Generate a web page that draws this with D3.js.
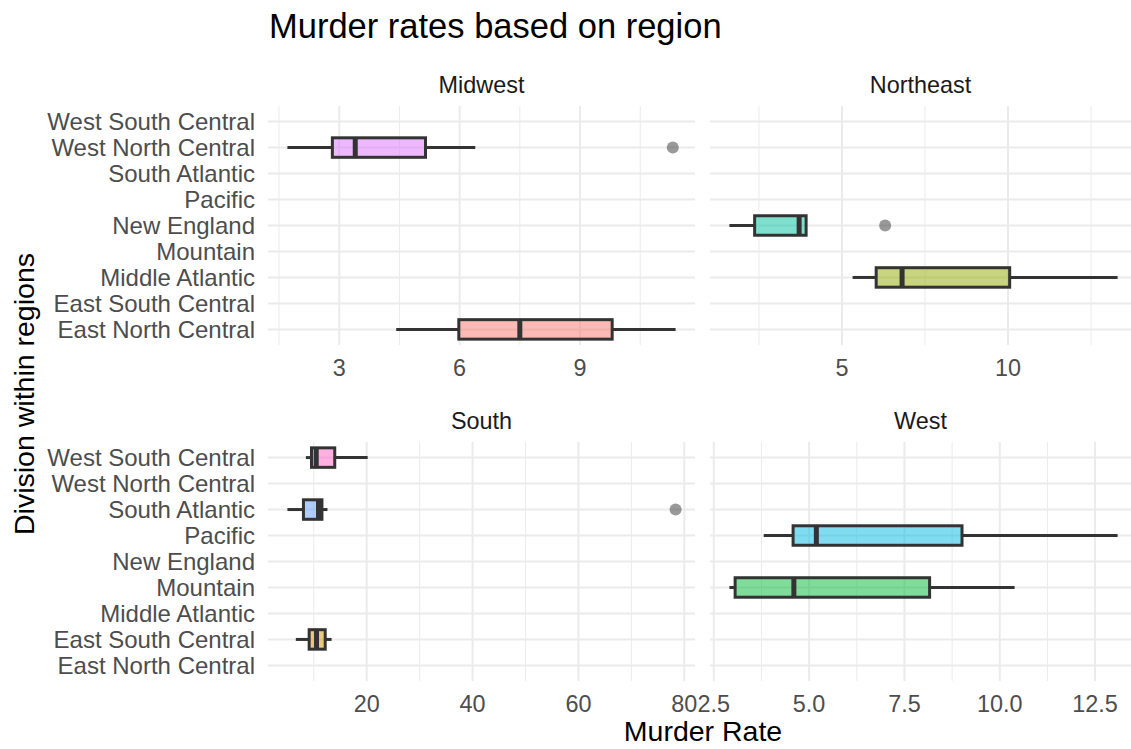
<!DOCTYPE html>
<html>
<head>
<meta charset="utf-8">
<script src="https://cdn.jsdelivr.net/npm/d3@7"></script>
<style>
	body { margin: 0; background: #fff; }
	text { font-family: "Liberation Sans", Arial, sans-serif; }
</style>
</head>
<body>
<div id="chart"></div>
<script>
// divisions in axis order (bottom to top) and their hue colours
var divisions = ['East North Central', 'East South Central', 'Middle Atlantic', 'Mountain',
	'New England', 'Pacific', 'South Atlantic', 'West North Central', 'West South Central'];
var divColors = ['#F8766D', '#D39200', '#93AA00', '#00BA38', '#00C19F', '#00B9E3', '#619CFF', '#DB72FB', '#FF61C3'];

// box stats, one array per region
var midwestBoxes = [
	{division: 'East North Central', lo: 4.42, q1: 5.98, med: 7.5, q3: 9.8, hi: 11.38, out: []},
	{division: 'West North Central', lo: 1.71, q1: 2.83, med: 3.4, q3: 5.15, hi: 6.39, out: [11.31]}
];
var northeastBoxes = [
	{division: 'Middle Atlantic', lo: 5.32, q1: 6.03, med: 6.81, q3: 10.05, hi: 13.3, out: []},
	{division: 'New England', lo: 1.61, q1: 2.37, med: 3.71, q3: 3.92, hi: 3.92, out: [6.3]}
];
var southBoxes = [
	{division: 'East South Central', lo: 6.62, q1: 9.14, med: 10.53, q3: 12.17, hi: 13.37, out: []},
	{division: 'South Atlantic', lo: 5.03, q1: 8.06, med: 10.9, q3: 11.55, hi: 12.6, out: [78.35]},
	{division: 'West South Central', lo: 8.52, q1: 9.58, med: 10.47, q3: 13.97, hi: 20.19, out: []}
];
var westBoxes = [
	{division: 'Mountain', lo: 2.91, q1: 3.06, med: 4.6, q3: 8.16, hi: 10.39, out: []},
	{division: 'Pacific', lo: 3.81, q1: 4.58, med: 5.19, q3: 9.01, hi: 13.09, out: []}
];

// tick values per panel
var midwestTicks = [3, 6, 9], midwestMinor = [1.5, 4.5, 7.5, 10.5];
var northeastTicks = [5, 10], northeastMinor = [2.5, 7.5, 12.5];
var southTicks = [20, 40, 60, 80], southMinor = [10, 30, 50, 70];
var westTicks = [2.5, 5, 7.5, 10, 12.5], westMinor = [3.75, 6.25, 8.75, 11.25];

var params = {
	width: 1131,
	height: 749,
	cols: [[268, 695], [710, 1137]],
	rows: [[106, 345], [442, 681]],
	boxColor: '#333333',
	gridColor: '#EBEBEB'
};

var facets = [
	{name: 'Midwest', boxes: midwestBoxes, ticks: midwestTicks, minor: midwestMinor, fmt: d3.format('d'), col: 0, row: 0},
	{name: 'Northeast', boxes: northeastBoxes, ticks: northeastTicks, minor: northeastMinor, fmt: d3.format('d'), col: 1, row: 0},
	{name: 'South', boxes: southBoxes, ticks: southTicks, minor: southMinor, fmt: d3.format('d'), col: 0, row: 1},
	{name: 'West', boxes: westBoxes, ticks: westTicks, minor: westMinor, fmt: d3.format('.1f'), col: 1, row: 1}
];

var color = d3.scaleOrdinal().domain(divisions).range(divColors);

var svg = d3.select('#chart').append('svg')
	.attr('width', params.width)
	.attr('height', params.height);

// title
svg.append('text')
	.attr('x', 269).attr('y', 38)
	.style('font-size', '34.5px').style('fill', '#000')
	.text('Murder rates based on region');

facets.forEach(function(f){
	var xr = params.cols[f.col], yr = params.rows[f.row];

	// free x scale with 5% expansion like ggplot
	var vals = [];
	f.boxes.forEach(function(b){ vals.push(b.lo, b.hi); vals = vals.concat(b.out); });
	var ext = d3.extent(vals), pad = (ext[1] - ext[0]) * 0.05;
	var x = d3.scaleLinear().domain([ext[0] - pad, ext[1] + pad]).range(xr);
	var y = d3.scalePoint().domain(divisions).range([yr[1], yr[0]]).padding(0.6);
	var bh = y.step() * 0.75;

	var g = svg.append('g');

	// grid
	g.selectAll('.minor').data(f.minor).enter().append('line')
		.attr('x1', function(d){ return x(d); }).attr('x2', function(d){ return x(d); })
		.attr('y1', yr[0]).attr('y2', yr[1])
		.attr('stroke', params.gridColor).attr('stroke-width', 1);
	g.selectAll('.major').data(f.ticks).enter().append('line')
		.attr('x1', function(d){ return x(d); }).attr('x2', function(d){ return x(d); })
		.attr('y1', yr[0]).attr('y2', yr[1])
		.attr('stroke', params.gridColor).attr('stroke-width', 2);
	g.selectAll('.hgrid').data(divisions).enter().append('line')
		.attr('x1', xr[0]).attr('x2', xr[1])
		.attr('y1', function(d){ return y(d); }).attr('y2', function(d){ return y(d); })
		.attr('stroke', params.gridColor).attr('stroke-width', 2);

	// strip label
	svg.append('text')
		.attr('x', (xr[0] + Math.min(xr[1], params.width + 6)) / 2 - (f.col ? 3 : 0))
		.attr('y', yr[0] - 13)
		.attr('text-anchor', 'middle')
		.style('font-size', '23.4px').style('fill', '#1A1A1A')
		.text(f.name);

	// x tick labels
	g.selectAll('.xlab').data(f.ticks).enter().append('text')
		.attr('x', function(d){ return x(d); })
		.attr('y', yr[1] + 31)
		.attr('text-anchor', 'middle')
		.style('font-size', '23.4px').style('fill', '#4D4D4D')
		.text(function(d){ return f.fmt(d); });

	// y tick labels on the left column only
	if (f.col == 0){
		g.selectAll('.ylab').data(divisions).enter().append('text')
			.attr('x', 255)
			.attr('y', function(d){ return y(d); })
			.attr('dy', '0.36em')
			.attr('text-anchor', 'end')
			.style('font-size', '24px').style('fill', '#4D4D4D')
			.text(function(d){ return d; });
	}

	// boxes
	var box = g.selectAll('.box').data(f.boxes).enter().append('g');
	box.append('line')
		.attr('x1', function(d){ return x(d.lo); }).attr('x2', function(d){ return x(d.q1); })
		.attr('y1', function(d){ return y(d.division); }).attr('y2', function(d){ return y(d.division); })
		.attr('stroke', params.boxColor).attr('stroke-width', 3);
	box.append('line')
		.attr('x1', function(d){ return x(d.q3); }).attr('x2', function(d){ return x(d.hi); })
		.attr('y1', function(d){ return y(d.division); }).attr('y2', function(d){ return y(d.division); })
		.attr('stroke', params.boxColor).attr('stroke-width', 3);
	box.append('rect')
		.attr('x', function(d){ return x(d.q1); })
		.attr('y', function(d){ return y(d.division) - bh / 2; })
		.attr('width', function(d){ return x(d.q3) - x(d.q1); })
		.attr('height', bh)
		.attr('fill', function(d){ return color(d.division); })
		.attr('fill-opacity', 0.5)
		.attr('stroke', params.boxColor).attr('stroke-width', 3);
	box.append('line')
		.attr('x1', function(d){ return x(d.med); }).attr('x2', function(d){ return x(d.med); })
		.attr('y1', function(d){ return y(d.division) - bh / 2; }).attr('y2', function(d){ return y(d.division) + bh / 2; })
		.attr('stroke', params.boxColor).attr('stroke-width', 5);
	box.each(function(d){
		d3.select(this).selectAll('circle').data(d.out).enter().append('circle')
			.attr('cx', function(v){ return x(v); })
			.attr('cy', y(d.division))
			.attr('r', 6)
			.attr('fill', params.boxColor).attr('fill-opacity', 0.5);
	});
});

// axis titles
svg.append('text')
	.attr('x', 703).attr('y', 741)
	.attr('text-anchor', 'middle')
	.style('font-size', '28.5px').style('fill', '#000')
	.text('Murder Rate');
svg.append('text')
	.attr('transform', 'translate(34,394) rotate(-90)')
	.attr('text-anchor', 'middle')
	.style('font-size', '28.5px').style('fill', '#000')
	.text('Division within regions');
</script>
</body>
</html>
